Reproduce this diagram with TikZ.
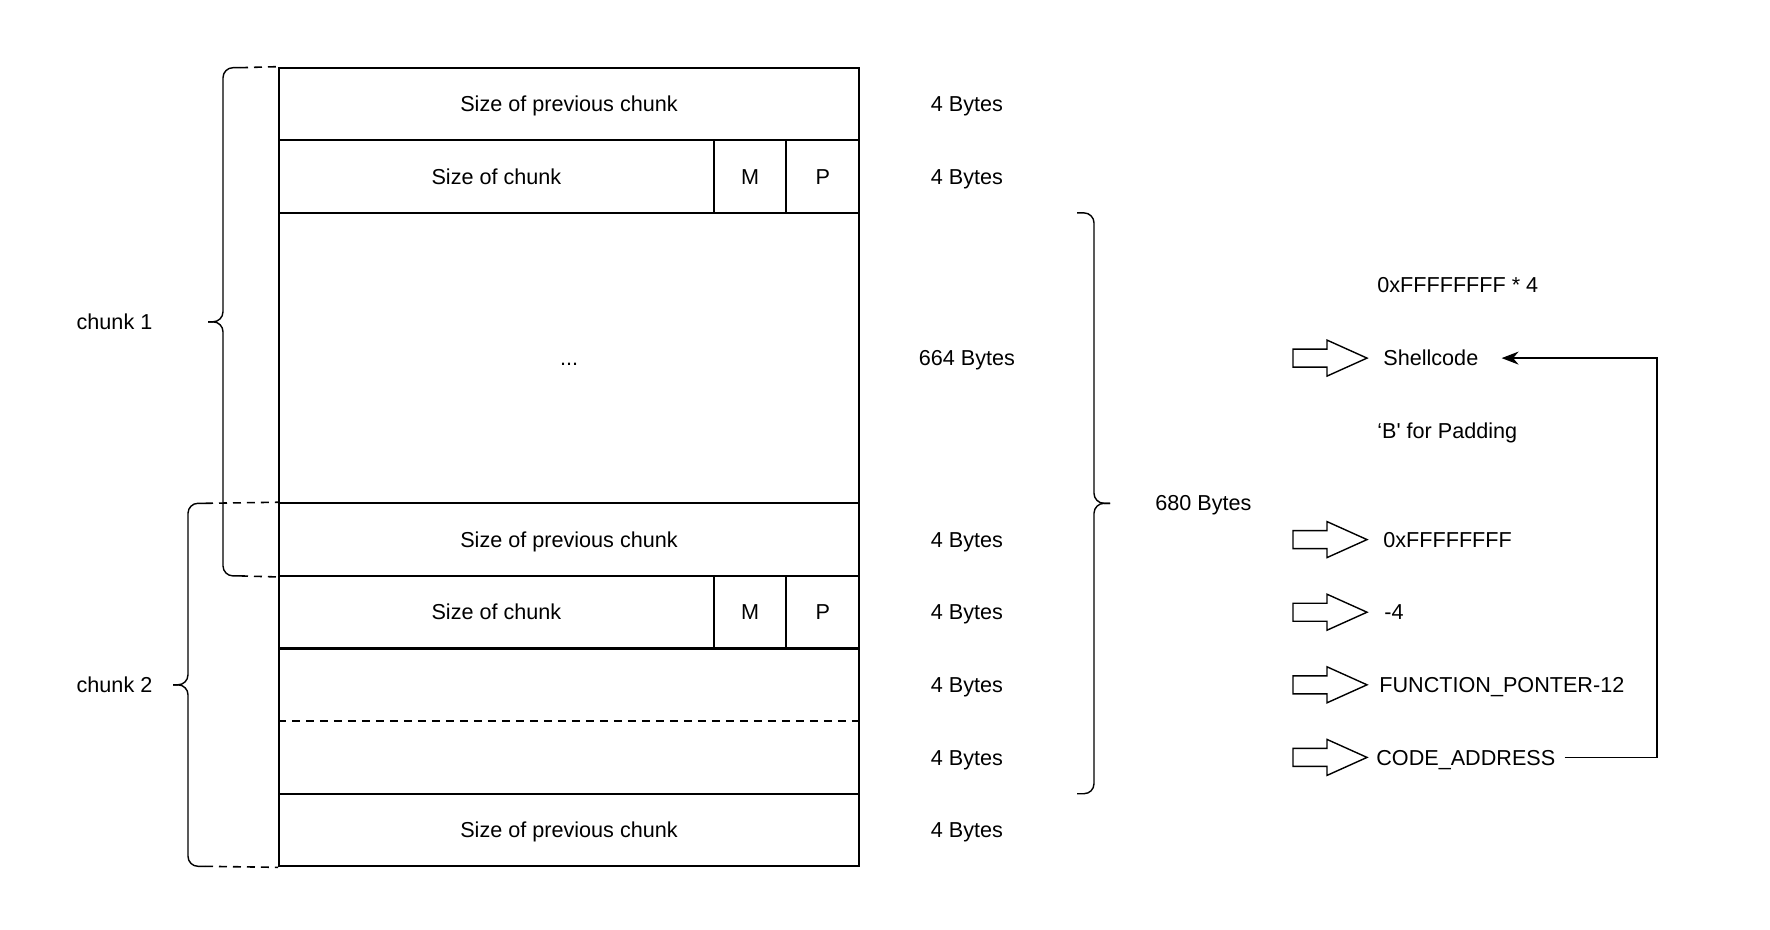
\documentclass[tikz,border=0pt]{standalone}
\usepackage{fontspec}
\setmainfont{Liberation Sans}
\usetikzlibrary{arrows.meta}

\begin{document}
\begin{tikzpicture}[x=0.02cm,y=-0.02cm]
	\tikzset{
		every node/.style={font=\fontsize{12.3}{15}\selectfont, text height=1.9ex, text depth=0.25ex},
		cell/.style={draw, line width=1.2pt, minimum height=1.452cm, inner sep=0pt},
		bigcell/.style={cell, minimum width=11.6cm},
		smallcell/.style={cell, minimum width=1.452cm},
		txt/.style={anchor=west, inner sep=0pt},
		bracket/.style={line width=0.8pt, rounded corners=0.2cm},
		guide/.style={line width=0.9pt, dash pattern=on 0.16cm off 0.12cm},
		blockarrow/.pic={
			\draw[line width=0.8pt] (0,-9) -- (34,-9) -- (34,-18) -- (74,0)
				-- (34,18) -- (34,9) -- (0,9) -- cycle;
		},
		conn/.style={line width=0.8pt, -{Stealth[length=0.34cm, width=0.26cm]}}
	}
	\useasboundingbox (0,0) rectangle (1770,929);
	
	% Chunk 1
	\node[bigcell] (prev1) at (569,104) {Size of previous chunk};
	\node[cell, minimum width=8.696cm] (size1) at (496.4,176.6) {Size of chunk};
	\node[smallcell] (m1) at (750.1,176.6) {M};
	\node[smallcell] (p1) at (822.7,176.6) {P};
	\node[bigcell, minimum height=5.808cm] (data1) at (569,358.1) {...};
	
	% Chunk 2
	\node[bigcell] (prev2) at (569,539.6) {Size of previous chunk};
	\node[cell, minimum width=8.696cm] (size2) at (496.4,612.2) {Size of chunk};
	\node[smallcell] (m2) at (750.1,612.2) {M};
	\node[smallcell] (p2) at (822.7,612.2) {P};
	\node[bigcell, minimum height=2.904cm] (fd2) at (569,721.1) {};
	\draw[guide] (fd2.west) -- (fd2.east);
	\node[bigcell] (prev3) at (569,830) {Size of previous chunk};
	
	% Groessen
	\node (b1) at (967,104) {4 Bytes};
	\node (b2) at (967,176.6) {4 Bytes};
	\node (b3) at (967,358.1) {664 Bytes};
	\node (b4) at (967,539.6) {4 Bytes};
	\node (b5) at (967,612.2) {4 Bytes};
	\node (b6) at (967,684.8) {4 Bytes};
	\node (b7) at (967,757.4) {4 Bytes};
	\node (b8) at (967,830) {4 Bytes};
	
	% Klammern
	\node (chunk1) at (114.5,321.8) {chunk 1};
	\draw[bracket] (240,67.7) -- (223,67.7) -- (223,321.8) -- (208,321.8);
	\draw[bracket] (208,321.8) -- (223,321.8) -- (223,575.9) -- (240,575.9);
	\draw[guide] (240,67.7) -- (prev1.north west);
	\draw[guide] (240,575.9) -- (prev2.south west);
	
	\node (chunk2) at (114.5,684.8) {chunk 2};
	\draw[bracket] (205,503.3) -- (188,503.3) -- (188,684.8) -- (173,684.8);
	\draw[bracket] (173,684.8) -- (188,684.8) -- (188,866.3) -- (205,866.3);
	\draw[guide] (205,503.3) -- (prev2.north west);
	\draw[guide] (205,866.3) -- (prev3.south west);
	
	\node (total) at (1203.5,503.3) {680 Bytes};
	\draw[bracket] (1077,212.9) -- (1094,212.9) -- (1094,503.3) -- (1110,503.3);
	\draw[bracket] (1110,503.3) -- (1094,503.3) -- (1094,793.7) -- (1077,793.7);
	
	% Payload
	\node[txt] (fx4) at (1377,284.5) {0xFFFFFFFF * 4};
	\pic (a1) at (1293,358.1) {blockarrow};
	\node[txt] (shell) at (1383,358.1) {Shellcode};
	\node[txt] (pad) at (1377,430.7) {‘B\textquotesingle{} for Padding};
	\pic (a2) at (1293,539.6) {blockarrow};
	\node[txt] (fx) at (1383,539.6) {0xFFFFFFFF};
	\pic (a3) at (1293,612.2) {blockarrow};
	\node[txt] (minus4) at (1384,612.2) {-4};
	\pic (a4) at (1293,684.8) {blockarrow};
	\node[txt] (fptr) at (1379,684.8) {FUNCTION\_PONTER-12};
	\pic (a5) at (1293,757.4) {blockarrow};
	\node[txt] (code) at (1376,757.4) {CODE\_ADDRESS};
	
	% Verweis
	\coordinate (turn) at (1657,757.4);
	\draw[conn] ([xshift=0.18cm]code.east) -- (turn) |- ([xshift=0.46cm]shell.east);
\end{tikzpicture}
\end{document}
